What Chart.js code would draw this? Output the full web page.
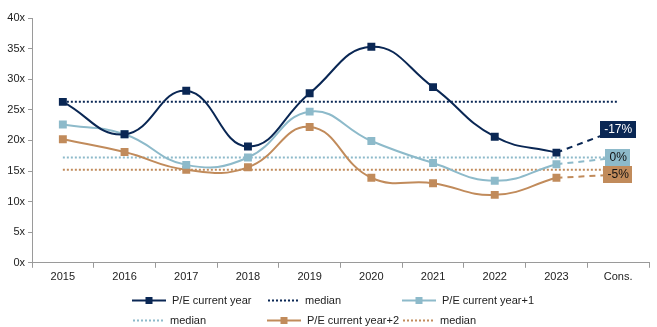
<!DOCTYPE html>
<html>
<head>
<meta charset="utf-8">
<script src="https://cdn.jsdelivr.net/npm/chart.js@4"></script>
<style>
  html, body { margin: 0; padding: 0; background: #fff; }
  #wrap { position: relative; width: 657px; height: 327px; font-family: "Liberation Sans", Arial, sans-serif; }
  canvas { position: absolute; left: 0; top: 0; }
  .lg { position: absolute; height: 14px; font-size: 11px; color: #222; line-height: 14px; white-space: nowrap; }
  .lg svg { position: absolute; left: 0; top: 0; }
  .lg span { position: absolute; top: 0; }
</style>
</head>
<body>
<div id="wrap">
  <canvas id="c" width="657" height="327"></canvas>
</div>
<script>
// Price/earnings multiples by year, plus consensus
const categories = ['2015', '2016', '2017', '2018', '2019', '2020', '2021', '2022', '2023', 'Cons.'];
const peCurrent  = [26.3, 21.0, 28.1, 19.0, 27.7, 35.3, 28.7, 20.6, 18.0, 21.8];
const peNext1    = [22.6, 21.0, 16.0, 17.2, 24.7, 19.9, 16.3, 13.4, 16.1, 17.2];
const peNext2    = [20.2, 18.1, 15.2, 15.6, 22.2, 13.9, 13.0, 11.1, 13.9, 14.4];
const medianCurrent = 26.3;
const medianNext1   = 17.2;
const medianNext2   = 15.2;
const consLabels = ['-17%', '0%', '-5%'];
const yTicks = [0, 5, 10, 15, 20, 25, 30, 35, 40];

const NAVY = '#0a2754';
const BLUE = '#8dbaca';
const TAN  = '#c18b5b';
const AXIS = '#9a9a9a';

const flat = v => categories.map(() => v);
const lastIdx = categories.length - 1;

// historical part: solid smoothed line with square markers
function historyDataset(label, data, color) {
  return {
    label,
    data: data.map((v, i) => i === lastIdx ? null : v),
    borderColor: color, backgroundColor: color,
    borderWidth: 2,
    tension: 0.45,
    pointStyle: 'rect',
    pointRadius: 5.6,
    pointHoverRadius: 0,
    pointBorderWidth: 0,
    order: 1
  };
}
// consensus part: dashed link from the last year to the consensus value
function consensusDataset(label, data, color) {
  return {
    label,
    data: data.map((v, i) => i >= lastIdx - 1 ? v : null),
    borderColor: color, borderWidth: 2, borderDash: [6, 5],
    pointRadius: 0, pointHoverRadius: 0, tension: 0,
    order: 1
  };
}
function medianDataset(value, color) {
  return {
    label: 'median', data: flat(value),
    borderColor: color, borderWidth: 2, borderDash: [2, 2],
    pointRadius: 0, pointHoverRadius: 0, tension: 0, order: 2
  };
}

// value tags at the consensus points
const consTags = {
  id: 'consTags',
  afterDatasetsDraw(chart) {
    const ctx = chart.ctx;
    const tags = [
      { ds: 6, text: consLabels[0], bg: NAVY, fg: '#ffffff' },
      { ds: 7, text: consLabels[1], bg: BLUE, fg: '#111111' },
      { ds: 8, text: consLabels[2], bg: TAN,  fg: '#111111' }
    ];
    ctx.save();
    ctx.font = '12px "Liberation Sans", Arial, sans-serif';
    ctx.textAlign = 'center';
    ctx.textBaseline = 'middle';
    tags.forEach(t => {
      const pt = chart.getDatasetMeta(t.ds).data[lastIdx];
      const w = ctx.measureText(t.text).width + 8;
      const h = 17;
      ctx.fillStyle = t.bg;
      ctx.fillRect(Math.round(pt.x - w / 2), Math.round(pt.y - h / 2), Math.round(w), h);
      ctx.fillStyle = t.fg;
      ctx.fillText(t.text, pt.x, pt.y + 0.5);
    });
    ctx.restore();
  }
};

new Chart(document.getElementById('c'), {
  type: 'line',
  data: {
    labels: categories,
    datasets: [
      medianDataset(medianCurrent, NAVY),
      medianDataset(medianNext1, BLUE),
      medianDataset(medianNext2, TAN),
      historyDataset('P/E current year', peCurrent, NAVY),
      historyDataset('P/E current year+1', peNext1, BLUE),
      historyDataset('P/E current year+2', peNext2, TAN),
      consensusDataset('P/E current year', peCurrent, NAVY),
      consensusDataset('P/E current year+1', peNext1, BLUE),
      consensusDataset('P/E current year+2', peNext2, TAN)
    ]
  },
  options: {
    responsive: false,
    animation: false,
    devicePixelRatio: 1,
    spanGaps: false,
    layout: { padding: { left: 0, right: 8, top: 18, bottom: 40 } },
    plugins: { legend: { display: false }, tooltip: { enabled: false } },
    events: [],
    scales: {
      x: {
        offset: true,
        grid: { display: true, drawOnChartArea: false, offset: true, tickLength: 5, color: AXIS },
        border: { color: AXIS },
        ticks: { color: '#222', font: { size: 11, family: '"Liberation Sans", Arial, sans-serif' }, padding: 3, maxRotation: 0 }
      },
      y: {
        min: 0, max: 40,
        afterBuildTicks: s => { s.ticks = yTicks.map(v => ({ value: v })); },
        afterFit: s => { s.width = 32; },
        grid: { display: true, drawOnChartArea: false, tickLength: 4, color: AXIS },
        border: { color: AXIS },
        ticks: { color: '#222', font: { size: 11, family: '"Liberation Sans", Arial, sans-serif' }, padding: 3, callback: v => v + 'x' }
      }
    }
  },
  plugins: [consTags]
});

// legend
const legendItems = [
  { text: 'P/E current year',   color: NAVY, kind: 'line', x: 132, y: 293 },
  { text: 'median',             color: NAVY, kind: 'dot',  x: 267, y: 293 },
  { text: 'P/E current year+1', color: BLUE, kind: 'line', x: 402, y: 293 },
  { text: 'median',             color: BLUE, kind: 'dot',  x: 132, y: 313 },
  { text: 'P/E current year+2', color: TAN,  kind: 'line', x: 267, y: 313 },
  { text: 'median',             color: TAN,  kind: 'dot',  x: 402, y: 313 }
];
const wrap = document.getElementById('wrap');
legendItems.forEach(it => {
  const d = document.createElement('div');
  d.className = 'lg';
  d.style.left = it.x + 'px';
  d.style.top = it.y + 'px';
  let sample;
  if (it.kind === 'line') {
    sample = `<svg width="36" height="14"><line x1="0" y1="7.5" x2="34" y2="7.5" stroke="${it.color}" stroke-width="2"/>` +
             `<rect x="13.5" y="4" width="7" height="7" fill="${it.color}"/></svg>`;
  } else {
    sample = `<svg width="36" height="14"><line x1="1" y1="7.5" x2="33" y2="7.5" stroke="${it.color}" stroke-width="2" stroke-dasharray="2 2"/></svg>`;
  }
  d.innerHTML = sample + `<span style="left:${it.kind === 'line' ? 40 : 38}px">${it.text}</span>`;
  wrap.appendChild(d);
});
</script>
</body>
</html>
